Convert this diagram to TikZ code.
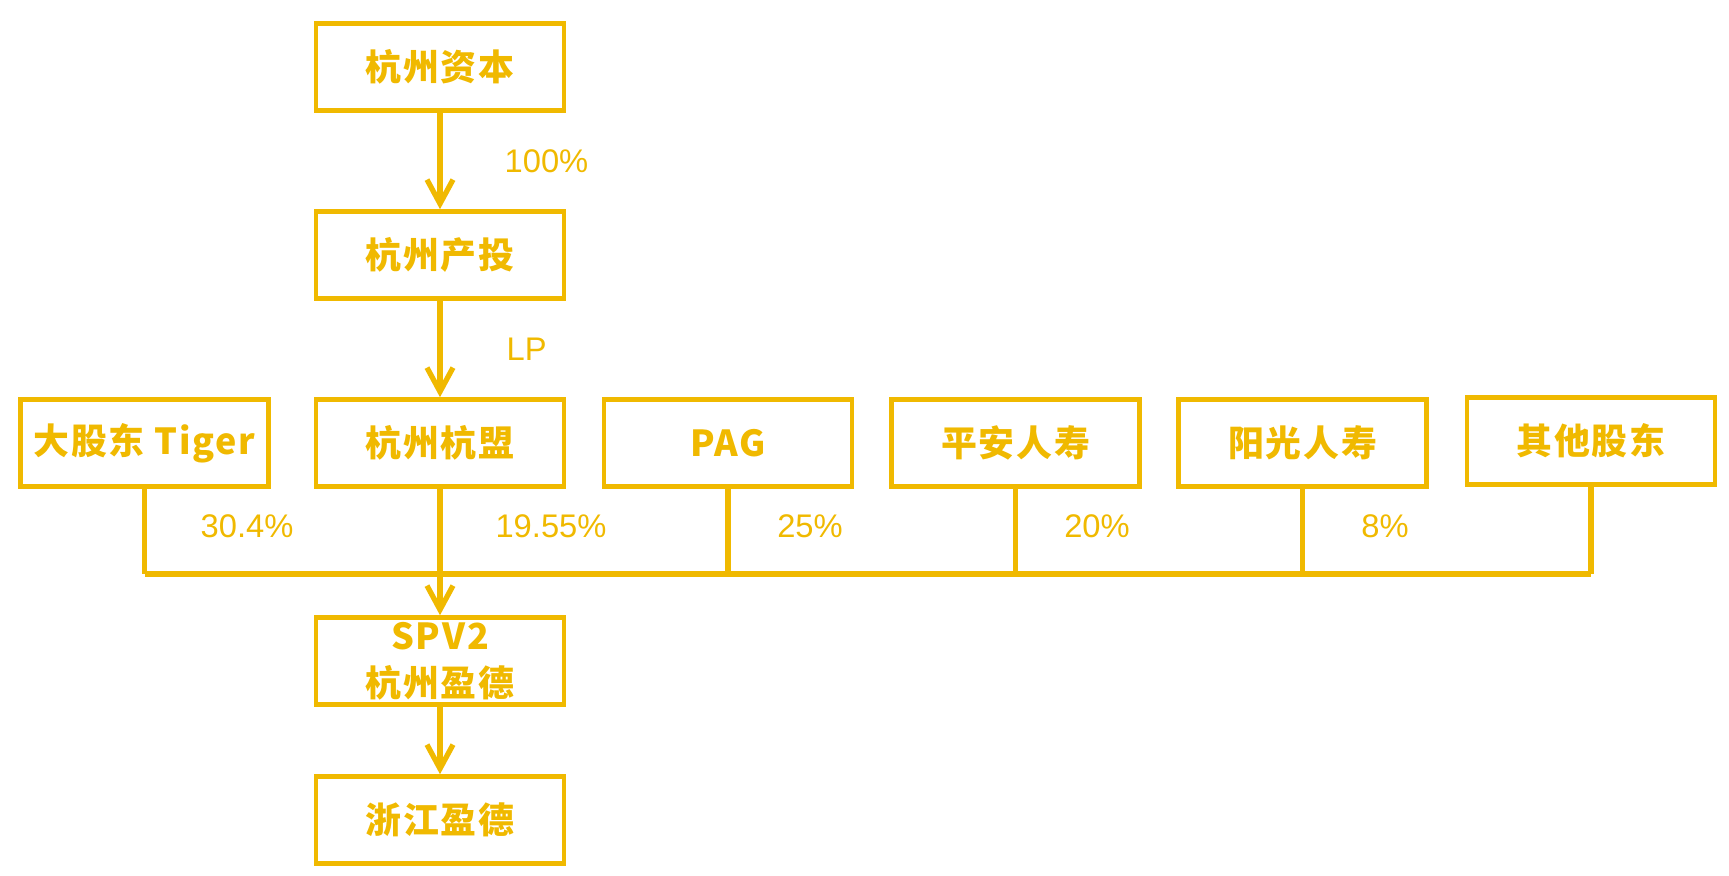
\documentclass[tikz,border=0pt]{standalone}
\usepackage{fontspec}
\setmainfont{Liberation Sans}
\newfontfamily\cjk{Noto Sans CJK SC}[LetterSpace=5]
\usetikzlibrary{arrows.meta}
\definecolor{gold}{RGB}{240,185,0}

\begin{document}
\begin{tikzpicture}[x=0.01cm,y=-0.01cm,
  box/.style={shape=rectangle,draw=gold,line width=1.3pt,minimum width=2.48cm,minimum height=0.87cm,inner sep=0pt,text=gold,align=center,font=\cjk\bfseries\fontsize{10.2}{13.4}\selectfont},
  pct/.style={text=gold,inner sep=0pt,font=\fontsize{9.3}{11}\selectfont},
  link/.style={draw=gold,line width=1.5pt},
  tip/.style={link,-{Straight Barb[length=0.24cm,width=0.26cm]}}]
\useasboundingbox (0,0) rectangle (1729,875);
\node[box] (cap) at (440,67) {杭州资本};
\node[box] (inv) at (440,255) {杭州产投};
\node[box] (tig) at (144.5,443) {大股东 Tiger};
\node[box] (hm) at (440,443) {杭州杭盟};
\node[box] (pag) at (728,443) {PAG};
\node[box] (pa) at (1015.5,443) {平安人寿};
\node[box] (yg) at (1302.5,443) {阳光人寿};
\node[box] (qt) at (1591,441) {其他股东};
\node[box] (spv) at (440,661) {SPV2\\杭州盈德};
\node[box] (zj) at (440,820) {浙江盈德};
\coordinate (bar) at (0,574);
\draw[tip] (cap) -- (inv) node[pct,midway,anchor=west,xshift=0.62cm] {100\%};
\draw[tip] (inv) -- (hm) node[pct,midway,anchor=west,xshift=0.64cm] {LP};
\foreach \n in {tig,pag,pa,yg,qt}
  \draw[link] (\n.south) -- (\n.south |- bar);
\draw[link] (tig.south |- bar) -- (qt.south |- bar);
\draw[tip] (hm) -- (spv);
\draw[tip] (spv) -- (zj);
\node[pct] (p1) at (247,526) {30.4\%};
\node[pct] (p2) at (551,526) {19.55\%};
\node[pct] (p3) at (810,526) {25\%};
\node[pct] (p4) at (1097,526) {20\%};
\node[pct] (p5) at (1385,526) {8\%};
\end{tikzpicture}
\end{document}
